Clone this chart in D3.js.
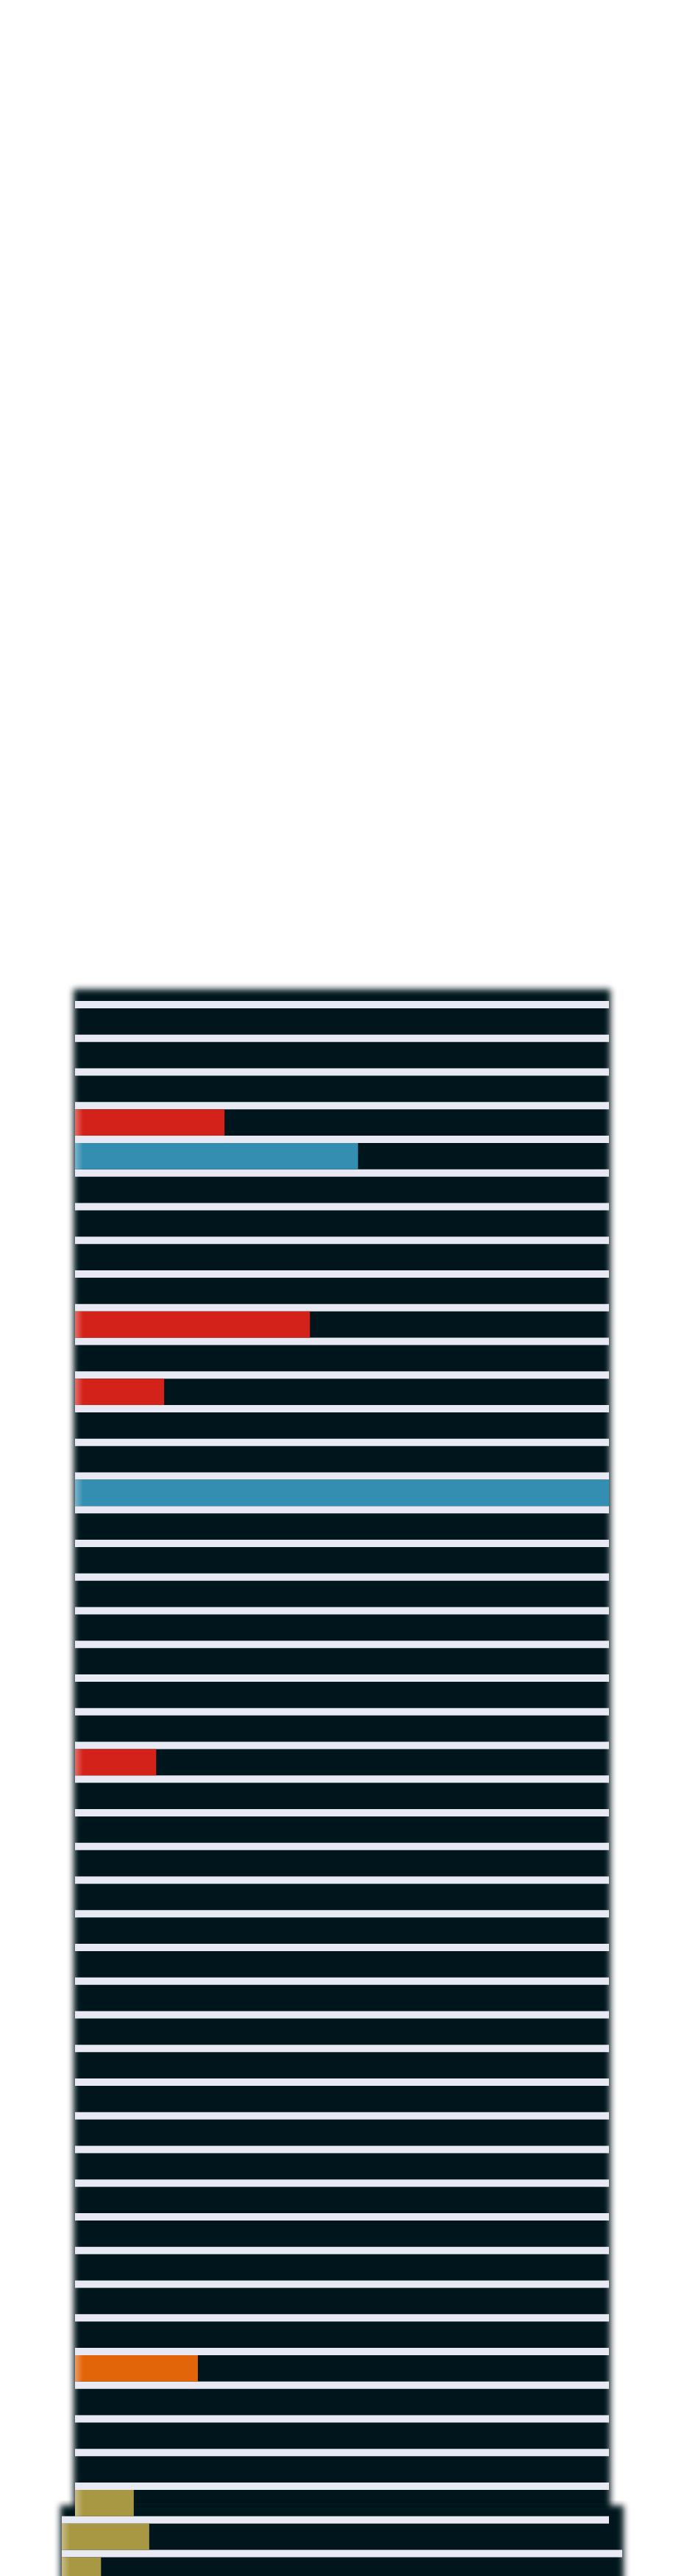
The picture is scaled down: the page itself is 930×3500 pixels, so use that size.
<!DOCTYPE html>
<html>
<head>
<meta charset="utf-8">
<script src="https://cdn.jsdelivr.net/npm/d3@7"></script>
<style>
  html, body { margin: 0; padding: 0; background: #ffffff; }
  svg { display: block; }
</style>
</head>
<body>
<svg id="chart" width="930" height="3500"></svg>
<script>
// ---- data ----
// 47 rows; rows 0..44 belong to panel A, rows 45..46 to panel B
const rowIndex = d3.range(47);
const rowPanel = rowIndex.map(i => (i < 45 ? "A" : "B"));
// fill percentage of each row (0 = empty track)
const rowValues = [
  0, 0, 0, 28, 53, 0, 0, 0, 0, 44,
  0, 16.7, 0, 0, 100, 0, 0, 0, 0, 0,
  0, 0, 15.2, 0, 0, 0, 0, 0, 0, 0,
  0, 0, 0, 0, 0, 0, 0, 0, 0, 0,
  23, 0, 0, 0, 11, 15.6, 7
];
// colour group of each row
const rowGroup = [
  "", "", "", "red", "blue", "", "", "", "", "red",
  "", "red", "", "", "blue", "", "", "", "", "",
  "", "", "red", "", "", "", "", "", "", "",
  "", "", "", "", "", "", "", "", "", "",
  "orange", "", "", "", "gold", "gold", "gold"
];
const groupNames = ["red", "blue", "orange", "gold"];
const groupColors = ["#d3221a", "#338eb1", "#e3650a", "#a99843"];

// ---- layout ----
const svg = d3.select("#chart");
const W = 930, H = 3500;
const step = 45.75, gap = 10, firstBandTop = 1370;

const panels = {
  A: { left: 102, right: 828, frame: [100, 1344, 830, 3520] },
  B: { left: 84, right: 846, frame: [82, 1344 + 0, 848, 3530], top: 3404 }
};
panels.B.frame[1] = panels.B.top;

const y = d3.scaleBand()
  .domain(rowIndex)
  .range([firstBandTop, firstBandTop + step * rowIndex.length - gap])
  .paddingInner(gap / step)
  .paddingOuter(0);

const xScale = {
  A: d3.scaleLinear().domain([0, 100]).range([panels.A.left, panels.A.right]),
  B: d3.scaleLinear().domain([0, 100]).range([panels.B.left, panels.B.right])
};
const color = d3.scaleOrdinal().domain(groupNames).range(groupColors);

const defs = svg.append("defs");
const blur = defs.append("filter").attr("id", "soft")
  .attr("x", "-5%").attr("y", "-5%").attr("width", "110%").attr("height", "110%");
blur.append("feGaussianBlur").attr("stdDeviation", 4);

const lg = defs.append("linearGradient").attr("id", "edgeGlow")
  .attr("x1", "0").attr("x2", "1").attr("y1", "0").attr("y2", "0");
lg.append("stop").attr("offset", "0").attr("stop-color", "#fff").attr("stop-opacity", 0.35);
lg.append("stop").attr("offset", "1").attr("stop-color", "#fff").attr("stop-opacity", 0);

// dark frames (soft-edged)
const frameData = ["A", "B"].map(k => panels[k].frame);
svg.append("g").selectAll("rect").data(frameData).join("rect")
  .attr("x", d => d[0]).attr("y", d => d[1])
  .attr("width", d => d[2] - d[0]).attr("height", d => d[3] - d[1])
  .attr("fill", "#06151d")
  .attr("filter", "url(#soft)");

// light separator strips (one above each row)
svg.append("g").selectAll("rect").data(rowIndex).join("rect")
  .attr("x", i => panels[rowPanel[i]].left)
  .attr("y", i => y(i) - gap)
  .attr("width", i => panels[rowPanel[Math.max(0, i - 1)]].right - panels[rowPanel[i]].left)
  .attr("height", gap)
  .attr("fill", "#e8e9f3");

// coloured fills
const filled = rowIndex.filter(i => rowValues[i] > 0);
const bars = svg.append("g");
bars.selectAll("rect.fill").data(filled).join("rect")
  .attr("class", "fill")
  .attr("x", i => xScale[rowPanel[i]](0))
  .attr("y", i => y(i))
  .attr("width", i => xScale[rowPanel[i]](rowValues[i]) - xScale[rowPanel[i]](0))
  .attr("height", y.bandwidth())
  .attr("fill", i => color(rowGroup[i]));

// soft light edge on the left of each fill
bars.selectAll("rect.glow").data(filled).join("rect")
  .attr("class", "glow")
  .attr("x", i => xScale[rowPanel[i]](0))
  .attr("y", i => y(i))
  .attr("width", i => Math.min(11, xScale[rowPanel[i]](rowValues[i]) - xScale[rowPanel[i]](0)))
  .attr("height", y.bandwidth())
  .attr("fill", "url(#edgeGlow)");
</script>
</body>
</html>
